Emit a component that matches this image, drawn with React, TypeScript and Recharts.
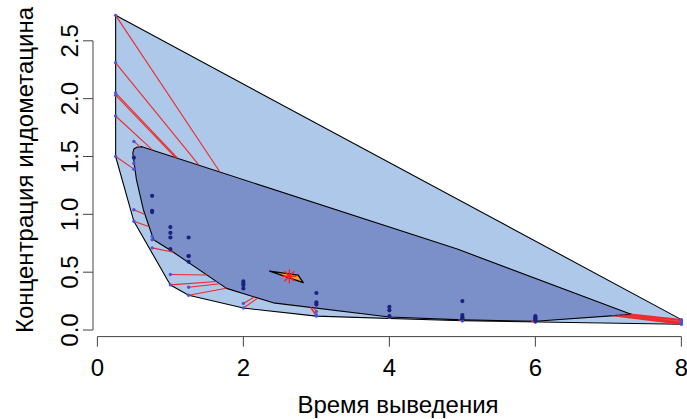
import React from 'react';
import { ComposedChart, Scatter, XAxis, YAxis, ReferenceLine } from 'recharts';

// Indomethacin plasma concentration, six subjects sampled at the same times (h)
const times = [0.25, 0.5, 0.75, 1, 1.25, 2, 3, 4, 5, 6, 8];
const subject1 = [1.5, 0.94, 0.78, 0.48, 0.37, 0.19, 0.12, 0.11, 0.08, 0.07, 0.05];
const subject2 = [2.03, 1.63, 0.71, 0.7, 0.64, 0.36, 0.32, 0.2, 0.25, 0.12, 0.08];
const subject3 = [2.72, 1.49, 1.16, 0.8, 0.8, 0.39, 0.22, 0.12, 0.11, 0.08, 0.08];
const subject4 = [1.85, 1.39, 1.02, 0.89, 0.59, 0.4, 0.16, 0.11, 0.1, 0.07, 0.07];
const subject5 = [2.05, 1.04, 0.81, 0.39, 0.3, 0.23, 0.13, 0.11, 0.08, 0.1, 0.06];
const subject6 = [2.31, 1.44, 1.03, 0.84, 0.64, 0.42, 0.24, 0.17, 0.13, 0.1, 0.09];
const subjects = [subject1, subject2, subject3, subject4, subject5, subject6];

// Bag (depth region holding half of the points), clockwise from upper left
const bagTime = [0.485, 0.5, 0.54, 0.61, 4.93, 7.32, 6.0, 5.0, 4.0, 2.41, 1.77, 1.0, 0.77, 0.63, 0.535];
const bagConc = [1.53, 1.565, 1.58, 1.585, 0.7, 0.135, 0.076, 0.088, 0.112, 0.235, 0.36, 0.69, 0.78, 1.04, 1.3];

// Innermost depth region and the depth median
const centerTime = [2.36, 2.75, 2.82];
const centerConc = [0.51, 0.475, 0.41];
const medianPoint = [2.63, 0.465];

const xTicks = [0, 2, 4, 6, 8];
const yTicks = [0, 0.5, 1, 1.5, 2, 2.5];

const X_DOMAIN: [number, number] = [-0.06, 8.31];
const Y_DOMAIN: [number, number] = [-0.0568, 2.8268];

type Pt = { x: number; y: number };

const allPoints: Pt[] = subjects.flatMap((s) => s.map((c, i) => ({ x: times[i], y: c })));
const bag: Pt[] = bagTime.map((t, i) => ({ x: t, y: bagConc[i] }));
const centerRegion: Pt[] = centerTime.map((t, i) => ({ x: t, y: centerConc[i] }));
const median: Pt = { x: medianPoint[0], y: medianPoint[1] };

function cross(o: Pt, a: Pt, b: Pt) {
  return (a.x - o.x) * (b.y - o.y) - (a.y - o.y) * (b.x - o.x);
}

// Convex hull (monotone chain) of every observation: the loop
function convexHull(pts: Pt[]): Pt[] {
  const p = [...pts].sort((a, b) => a.x - b.x || a.y - b.y);
  const lower: Pt[] = [];
  for (const q of p) {
    while (lower.length >= 2 && cross(lower[lower.length - 2], lower[lower.length - 1], q) <= 0) lower.pop();
    lower.push(q);
  }
  const upper: Pt[] = [];
  for (let i = p.length - 1; i >= 0; i--) {
    const q = p[i];
    while (upper.length >= 2 && cross(upper[upper.length - 2], upper[upper.length - 1], q) <= 0) upper.pop();
    upper.push(q);
  }
  upper.pop();
  lower.pop();
  return lower.concat(upper);
}

function insidePolygon(p: Pt, poly: Pt[]) {
  let inside = false;
  for (let i = 0, j = poly.length - 1; i < poly.length; j = i++) {
    const a = poly[i];
    const b = poly[j];
    if (a.y > p.y !== b.y > p.y && p.x < ((b.x - a.x) * (p.y - a.y)) / (b.y - a.y) + a.x) inside = !inside;
  }
  return inside;
}

// Where the segment from p towards the median first meets the bag boundary
function bagEntry(p: Pt): Pt {
  const dx = median.x - p.x;
  const dy = median.y - p.y;
  let best = 1;
  for (let i = 0; i < bag.length; i++) {
    const a = bag[i];
    const b = bag[(i + 1) % bag.length];
    const ex = b.x - a.x;
    const ey = b.y - a.y;
    const den = dx * ey - dy * ex;
    if (Math.abs(den) < 1e-12) continue;
    const s = ((a.x - p.x) * ey - (a.y - p.y) * ex) / den;
    const u = ((a.x - p.x) * dy - (a.y - p.y) * dx) / den;
    if (s >= 0 && s <= 1 && u >= 0 && u <= 1 && s < best) best = s;
  }
  return { x: p.x + best * dx, y: p.y + best * dy };
}

const loopHull = convexHull(allPoints);
const bagPoints = allPoints.filter((p) => insidePolygon(p, bag));
const loopPoints = allPoints.filter((p) => !insidePolygon(p, bag));
const whiskerEnds: Pt[] = loopPoints.flatMap((p) => [p, bagEntry(p)]);

const FONT = '"Liberation Sans", Arial, Helvetica, sans-serif';

const polygonLine = (fill: string, stroke: string, width = 1.1) => (props: any) => {
  const pts: { x: number; y: number }[] = props.points || [];
  if (!pts.length) return <g />;
  const d = pts.map((q, i) => `${i ? 'L' : 'M'}${q.x},${q.y}`).join(' ') + ' Z';
  return <path d={d} fill={fill} stroke={stroke} strokeWidth={width} strokeLinejoin="round" />;
};

const segmentLine = (props: any) => {
  const pts: { x: number; y: number }[] = props.points || [];
  let d = '';
  for (let i = 0; i + 1 < pts.length; i += 2) d += `M${pts[i].x},${pts[i].y} L${pts[i + 1].x},${pts[i + 1].y} `;
  return <path d={d} fill="none" stroke="#ee2a2a" strokeWidth={1.1} />;
};

const hidden = () => <g />;

const XTick = (props: any) => (
  <text x={props.x} y={props.y + 27} textAnchor="middle" fontFamily={FONT} fontSize={24} fill="#000">
    {props.payload.value}
  </text>
);

const YTick = (props: any) => {
  const bx = props.x - 3;
  return (
    <text
      x={bx}
      y={props.y}
      transform={`rotate(-90, ${bx}, ${props.y})`}
      textAnchor="middle"
      fontFamily={FONT}
      fontSize={24}
      fill="#000"
    >
      {Number(props.payload.value).toFixed(1)}
    </text>
  );
};

const Star = (props: any) => {
  const { cx, cy } = props;
  const r = 7;
  const rays = [0, 45, 90, 135].map((a) => {
    const rad = (a * Math.PI) / 180;
    const dx = r * Math.cos(rad);
    const dy = r * Math.sin(rad);
    return `M${cx - dx},${cy - dy} L${cx + dx},${cy + dy}`;
  });
  return <path d={rays.join(' ')} stroke="#ff1a1a" strokeWidth={1.3} fill="none" />;
};

export default function App() {
  return (
    <div style={{ position: 'absolute', left: 0, top: 0, width: 687, height: 419, overflow: 'hidden', background: '#fff' }}>
      <ComposedChart width={710} height={419} margin={{ top: 3, right: 6, bottom: 0, left: 0 }}>
        <XAxis
          type="number"
          dataKey="x"
          domain={X_DOMAIN}
          allowDataOverflow
          ticks={xTicks}
          interval={0}
          axisLine={false}
          tickSize={10}
          tickMargin={2}
          tickLine={{ stroke: '#444', strokeWidth: 1 }}
          tick={XTick}
          height={82.4}
        />
        <YAxis
          type="number"
          dataKey="y"
          domain={Y_DOMAIN}
          allowDataOverflow
          ticks={yTicks}
          interval={0}
          axisLine={false}
          tickSize={10}
          tickMargin={2}
          tickLine={{ stroke: '#444', strokeWidth: 1 }}
          tick={YTick}
          width={93}
        />
        <Scatter data={loopHull} shape={hidden} line={polygonLine('#aec8e9', '#000')} lineType="joint" isAnimationActive={false} />
        <Scatter data={bag} shape={hidden} line={polygonLine('#7b90c9', '#000')} lineType="joint" isAnimationActive={false} />
        <Scatter data={whiskerEnds} shape={hidden} line={segmentLine} lineType="joint" isAnimationActive={false} />
        <Scatter
          data={loopPoints}
          isAnimationActive={false}
          shape={(p: any) => <circle cx={p.cx} cy={p.cy} r={1.7} fill="#4a55d8" />}
        />
        <Scatter
          data={bagPoints}
          isAnimationActive={false}
          shape={(p: any) => <circle cx={p.cx} cy={p.cy} r={2.1} fill="#1c2180" />}
        />
        <Scatter data={centerRegion} shape={hidden} line={polygonLine('#f5a31e', '#000', 1.3)} lineType="joint" isAnimationActive={false} />
        <Scatter data={[median]} shape={Star} isAnimationActive={false} />
        <ReferenceLine segment={[{ x: 0, y: Y_DOMAIN[0] }, { x: 8, y: Y_DOMAIN[0] }]} stroke="#444" strokeWidth={1} ifOverflow="visible" />
        <ReferenceLine segment={[{ x: X_DOMAIN[0], y: 0 }, { x: X_DOMAIN[0], y: 2.5 }]} stroke="#444" strokeWidth={1} ifOverflow="visible" />
      </ComposedChart>
      <svg width={687} height={419} style={{ position: 'absolute', left: 0, top: 0, pointerEvents: 'none' }}>
        <text x={398} y={413} textAnchor="middle" fontFamily={FONT} fontSize={24} fill="#000">
          Время выведения
        </text>
        <text x={33} y={170} transform="rotate(-90, 33, 170)" textAnchor="middle" fontFamily={FONT} fontSize={24} fill="#000">
          Концентрация индометацина
        </text>
      </svg>
    </div>
  );
}
